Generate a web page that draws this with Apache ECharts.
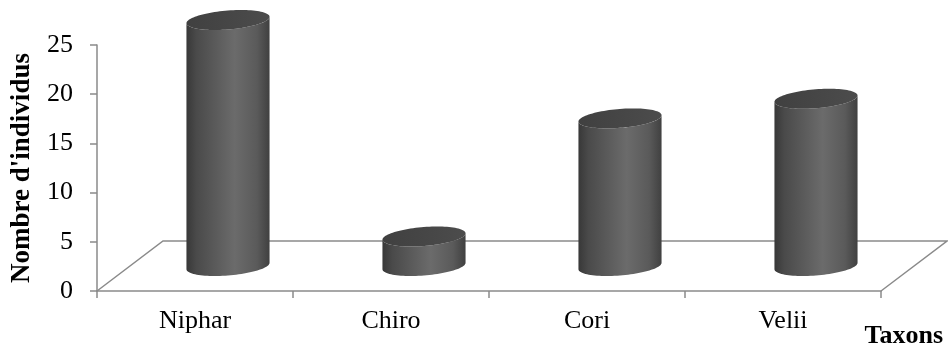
<!DOCTYPE html>
<html>
<head>
<meta charset="utf-8">
<script src="https://cdn.jsdelivr.net/npm/echarts@6/dist/echarts.min.js"></script>
<style>
  html, body { margin: 0; padding: 0; background: #fff; }
  #chart { width: 948px; height: 347px; }
</style>
</head>
<body>
<div id="chart"></div>
<script>
// Taxa and number of individuals counted for each
const categories = ['Niphar', 'Chiro', 'Cori', 'Velii'];
const counts = [25, 3, 15, 17];
const yTicks = { min: 0, max: 25, interval: 5 };

// Oblique projection of the depth axis (pixels for the full floor depth)
const DEPTH_X = 66;
const DEPTH_Y = 50;
const ELLIPSE_B = 10;          // vertical half-height of a cylinder cap
const SERIF = '"Liberation Serif", "Times New Roman", serif';
const LINE_GREY = '#8a8a8a';

function ellipsePoint(cx, cy, r, a, b, t) {
  return [cx + r * Math.cos(t) + a * Math.sin(t), cy - b * Math.sin(t)];
}

function renderCylinder(params, api) {
  const idx = api.value(0);
  const val = api.value(1);
  const base = api.coord([idx, 0]);
  const top = api.coord([idx, val]);
  const band = api.size([1, 0])[0];
  const halfW = band * 0.212;
  const b = ELLIPSE_B;
  const a = b * DEPTH_X / DEPTH_Y;
  const r = Math.sqrt(Math.max(halfW * halfW - a * a, 1));
  const cx = base[0] + DEPTH_X / 2;
  const cyB = base[1] - DEPTH_Y / 2;
  const cyT = top[1] - DEPTH_Y / 2;
  const tt = Math.atan2(a, r);
  const N = 48;

  const body = [];
  for (let i = 0; i <= N; i++) {
    const t = tt + Math.PI + Math.PI * i / N;
    body.push(ellipsePoint(cx, cyB, r, a, b, t));
  }
  for (let i = N; i >= 0; i--) {
    const t = tt + Math.PI + Math.PI * i / N;
    body.push(ellipsePoint(cx, cyT, r, a, b, t));
  }
  const cap = [];
  for (let i = 0; i < 2 * N; i++) {
    cap.push(ellipsePoint(cx, cyT, r, a, b, Math.PI * i / N));
  }

  return {
    type: 'group',
    children: [
      {
        type: 'polygon',
        shape: { points: body },
        style: {
          fill: {
            type: 'linear', x: 0, y: 0, x2: 1, y2: 0,
            colorStops: [
              { offset: 0, color: '#383838' },
              { offset: 0.12, color: '#4a4a4a' },
              { offset: 0.58, color: '#6b6b6b' },
              { offset: 0.85, color: '#5a5a5a' },
              { offset: 1, color: '#404040' }
            ]
          }
        }
      },
      {
        type: 'polygon',
        shape: { points: cap },
        style: {
          fill: {
            type: 'linear', x: 0, y: 0, x2: 1, y2: 0,
            colorStops: [
              { offset: 0, color: '#404040' },
              { offset: 1, color: '#4c4c4c' }
            ]
          }
        }
      }
    ]
  };
}

// Floor of the 3D plot: back edge and the two slanted sides
function renderFloor(params, api) {
  const band = api.size([1, 0])[0];
  const first = api.coord([0, 0]);
  const last = api.coord([categories.length - 1, 0]);
  const left = first[0] - band / 2;
  const right = last[0] + band / 2;
  const y0 = first[1];
  return {
    type: 'polyline',
    shape: {
      points: [
        [left, y0],
        [left + DEPTH_X, y0 - DEPTH_Y],
        [right + DEPTH_X, y0 - DEPTH_Y],
        [right, y0]
      ]
    },
    style: { stroke: LINE_GREY, lineWidth: 1.5, fill: null }
  };
}

const chart = echarts.init(document.getElementById('chart'));
chart.setOption({
  animation: false,
  backgroundColor: '#ffffff',
  grid: {
    left: 97, right: 67, top: 45, bottom: 56,
    containLabel: false,
    outerBoundsMode: 'none'
  },
  xAxis: {
    type: 'category',
    data: categories,
    axisLine: { lineStyle: { color: LINE_GREY, width: 1.5 } },
    axisTick: { show: true, length: 7, lineStyle: { color: LINE_GREY, width: 1.5 } },
    axisLabel: { color: '#000', fontFamily: SERIF, fontSize: 26, margin: 17 }
  },
  yAxis: {
    type: 'value',
    min: yTicks.min,
    max: yTicks.max,
    interval: yTicks.interval,
    name: "Nombre d'individus",
    nameLocation: 'middle',
    nameRotate: 90,
    nameGap: 61,
    nameTextStyle: { color: '#000', fontFamily: SERIF, fontSize: 27, fontWeight: 'bold' },
    axisLine: { show: true, lineStyle: { color: LINE_GREY, width: 1.5 } },
    axisTick: { show: true, length: 7, lineStyle: { color: LINE_GREY, width: 1.5 } },
    axisLabel: { color: '#000', fontFamily: SERIF, fontSize: 26, margin: 24 },
    splitLine: { show: false }
  },
  graphic: [
    {
      type: 'text',
      x: 943,
      y: 336,
      style: {
        text: 'Taxons',
        fill: '#000',
        font: 'bold 26px ' + SERIF,
        textAlign: 'right',
        textVerticalAlign: 'middle'
      }
    }
  ],
  series: [
    {
      type: 'custom',
      name: 'floor',
      renderItem: renderFloor,
      data: [[0, 0]],
      silent: true,
      z: 1
    },
    {
      type: 'custom',
      name: 'individus',
      renderItem: renderCylinder,
      encode: { x: 0, y: 1 },
      data: categories.map((c, i) => [i, counts[i]]),
      z: 2
    }
  ]
});
</script>
</body>
</html>
